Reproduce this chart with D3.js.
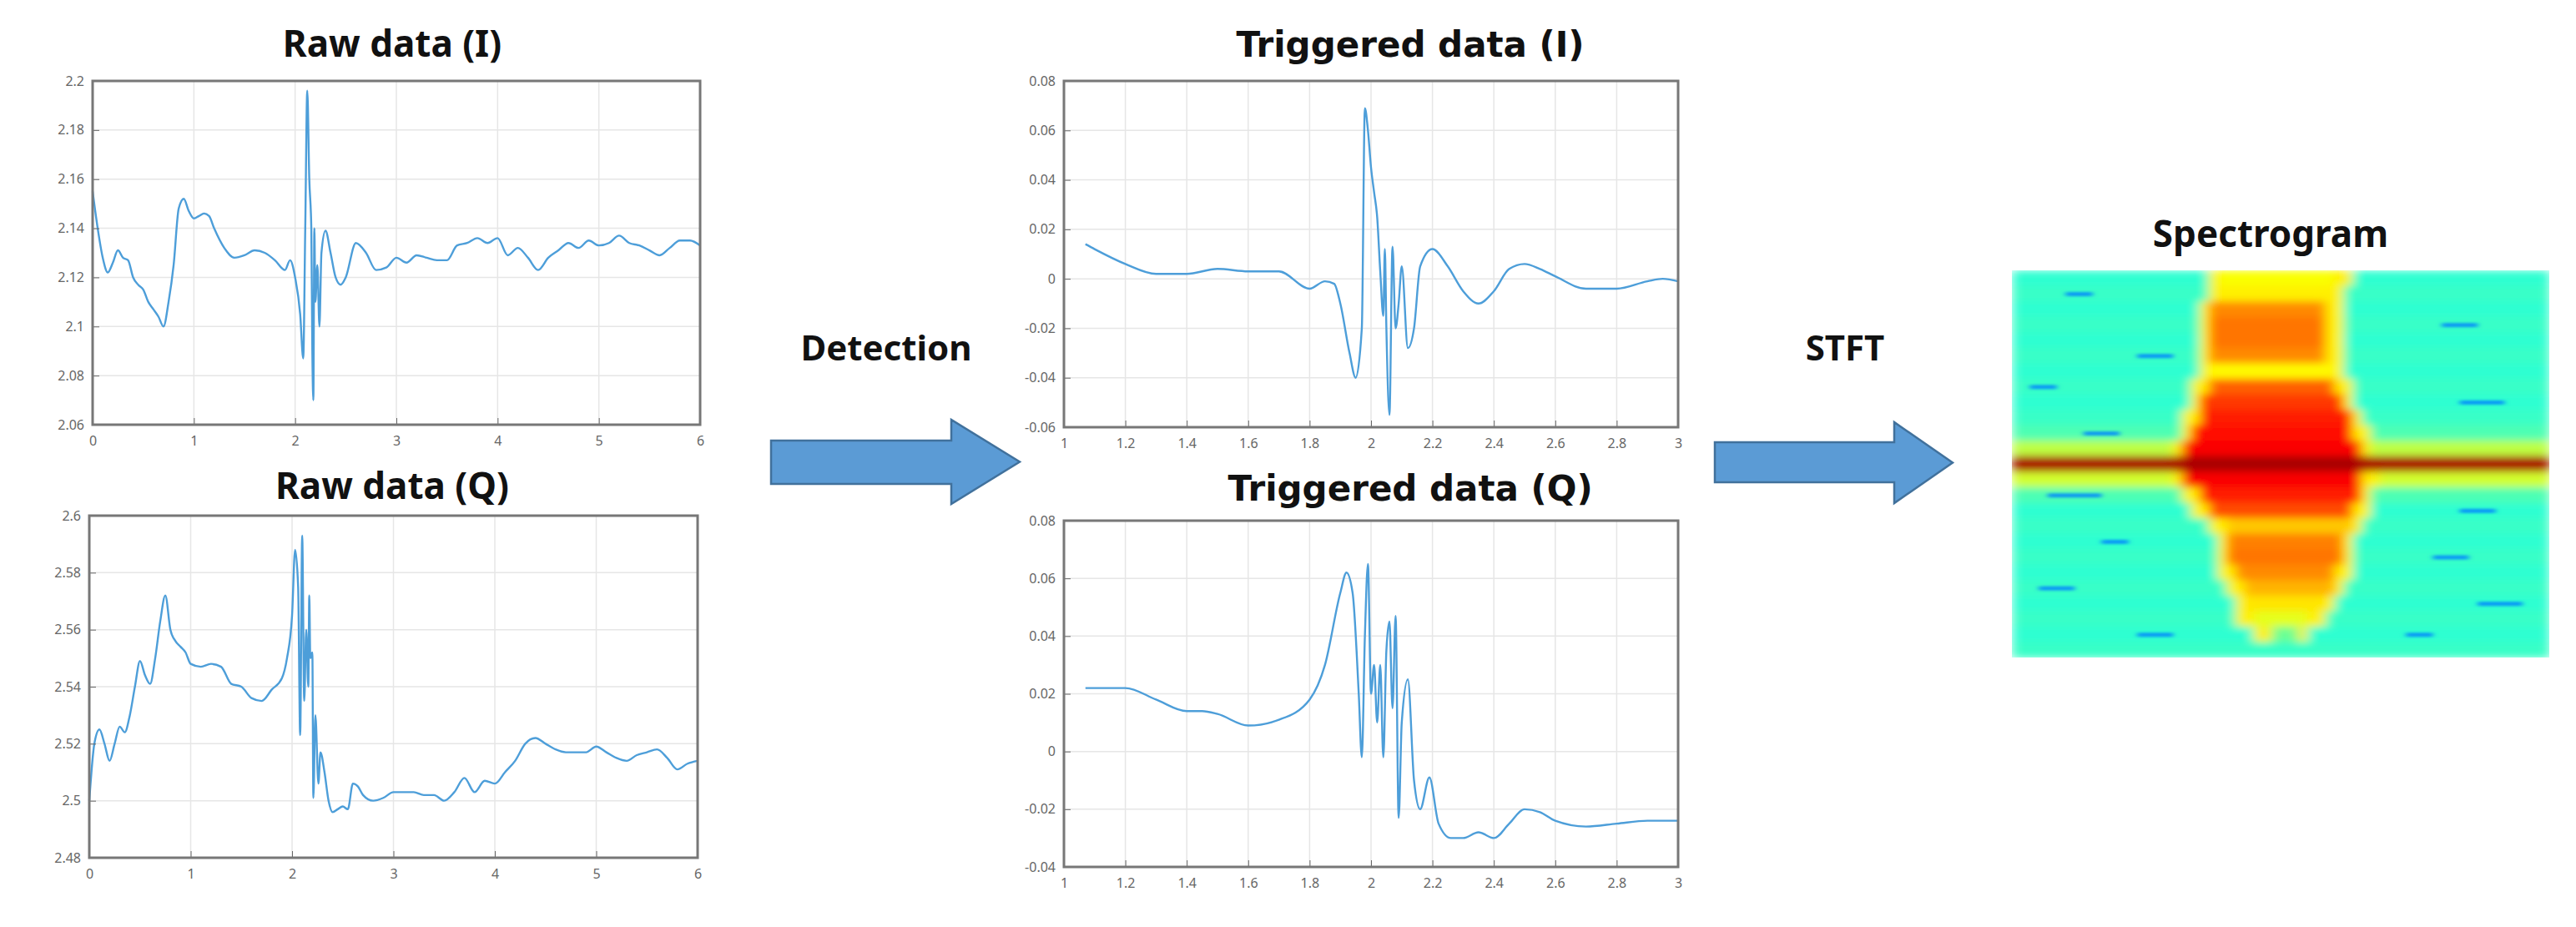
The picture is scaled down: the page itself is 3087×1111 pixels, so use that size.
<!DOCTYPE html>
<html>
<head>
<meta charset="utf-8">
<script src="https://cdn.jsdelivr.net/npm/d3@7"></script>
<style>
  body { margin: 0; background: #fff; }
  text { font-family: "Noto Sans", sans-serif; }
</style>
</head>
<body>
<svg id="chart" width="3087" height="1111"></svg>
<script>
// raw I / Q, x in seconds
var rawI = [[0,2.155],[0.05,2.14],[0.1,2.128],[0.15,2.122],[0.2,2.126],[0.25,2.131],[0.3,2.128],[0.35,2.127],[0.4,2.12],[0.45,2.117],[0.5,2.115],[0.55,2.11],[0.6,2.107],[0.65,2.104],[0.7,2.1],[0.75,2.11],[0.8,2.125],[0.85,2.148],[0.9,2.152],[0.95,2.147],[1.0,2.144],[1.05,2.145],[1.1,2.146],[1.15,2.145],[1.2,2.14],[1.3,2.132],[1.4,2.128],[1.5,2.129],[1.6,2.131],[1.7,2.13],[1.8,2.127],[1.9,2.123],[1.95,2.127],[2.0,2.12],[2.05,2.105],[2.08,2.087],[2.1,2.14],[2.12,2.196],[2.14,2.16],[2.16,2.14],[2.17,2.09],[2.18,2.07],[2.19,2.14],[2.2,2.11],[2.22,2.125],[2.24,2.1],[2.26,2.13],[2.3,2.139],[2.35,2.13],[2.4,2.12],[2.45,2.117],[2.5,2.12],[2.6,2.134],[2.7,2.13],[2.8,2.123],[2.9,2.124],[3.0,2.128],[3.1,2.126],[3.2,2.129],[3.3,2.128],[3.4,2.127],[3.5,2.127],[3.6,2.133],[3.7,2.134],[3.8,2.136],[3.9,2.134],[4.0,2.136],[4.1,2.129],[4.2,2.132],[4.3,2.128],[4.4,2.123],[4.5,2.128],[4.6,2.131],[4.7,2.134],[4.8,2.132],[4.9,2.135],[5.0,2.133],[5.1,2.134],[5.2,2.137],[5.3,2.134],[5.4,2.133],[5.5,2.131],[5.6,2.129],[5.7,2.132],[5.8,2.135],[5.9,2.135],[6.0,2.133]];

var rawQ = [[0,2.5],[0.05,2.52],[0.1,2.525],[0.15,2.52],[0.2,2.514],[0.25,2.52],[0.3,2.526],[0.35,2.524],[0.4,2.53],[0.45,2.54],[0.5,2.549],[0.55,2.544],[0.6,2.541],[0.65,2.55],[0.7,2.563],[0.75,2.572],[0.8,2.56],[0.85,2.556],[0.9,2.554],[0.95,2.552],[1.0,2.548],[1.1,2.547],[1.2,2.548],[1.3,2.547],[1.4,2.541],[1.5,2.54],[1.6,2.536],[1.7,2.535],[1.8,2.539],[1.9,2.543],[1.95,2.55],[2.0,2.565],[2.03,2.588],[2.06,2.575],[2.08,2.523],[2.1,2.593],[2.12,2.535],[2.14,2.56],[2.16,2.54],[2.17,2.572],[2.18,2.55],[2.2,2.552],[2.21,2.501],[2.23,2.53],[2.26,2.506],[2.28,2.517],[2.32,2.51],[2.36,2.5],[2.4,2.496],[2.45,2.497],[2.5,2.498],[2.55,2.497],[2.6,2.506],[2.65,2.505],[2.7,2.502],[2.8,2.5],[2.9,2.501],[3.0,2.503],[3.1,2.503],[3.2,2.503],[3.3,2.502],[3.4,2.502],[3.5,2.5],[3.6,2.503],[3.7,2.508],[3.8,2.503],[3.9,2.507],[4.0,2.506],[4.1,2.51],[4.2,2.514],[4.3,2.52],[4.4,2.522],[4.5,2.52],[4.6,2.518],[4.7,2.517],[4.8,2.517],[4.9,2.517],[5.0,2.519],[5.1,2.517],[5.2,2.515],[5.3,2.514],[5.4,2.516],[5.5,2.517],[5.6,2.518],[5.7,2.515],[5.8,2.511],[5.9,2.513],[6.0,2.514]];

// triggered I / Q
var trigI = [[1.07,0.014],[1.1,0.012],[1.2,0.006],[1.3,0.002],[1.4,0.002],[1.5,0.004],[1.6,0.003],[1.7,0.003],[1.8,-0.004],[1.85,-0.001],[1.88,-0.002],[1.9,-0.01],[1.93,-0.03],[1.95,-0.04],[1.97,-0.02],[1.98,0.069],[1.99,0.06],[2.0,0.045],[2.01,0.035],[2.02,0.025],[2.03,0.003],[2.04,-0.015],[2.045,0.012],[2.05,-0.02],[2.06,-0.055],[2.07,0.013],[2.08,-0.02],[2.09,-0.01],[2.1,0.005],[2.12,-0.028],[2.14,-0.02],[2.16,0.005],[2.2,0.012],[2.25,0.005],[2.3,-0.005],[2.35,-0.01],[2.4,-0.005],[2.45,0.004],[2.5,0.006],[2.55,0.004],[2.6,0.001],[2.7,-0.004],[2.8,-0.004],[2.9,-0.001],[2.95,0.0],[3.0,-0.001]];

var trigQ = [[1.07,0.022],[1.15,0.022],[1.2,0.022],[1.3,0.018],[1.4,0.014],[1.45,0.014],[1.5,0.013],[1.6,0.009],[1.7,0.011],[1.8,0.018],[1.85,0.03],[1.9,0.055],[1.92,0.062],[1.94,0.055],[1.96,0.02],[1.97,-0.002],[1.98,0.04],[1.99,0.065],[2.0,0.02],[2.01,0.03],[2.02,0.01],[2.03,0.03],[2.04,-0.002],[2.05,0.035],[2.06,0.045],[2.07,0.015],[2.08,0.047],[2.09,-0.023],[2.1,0.01],[2.12,0.025],[2.14,-0.01],[2.16,-0.02],[2.19,-0.009],[2.22,-0.025],[2.26,-0.03],[2.3,-0.03],[2.35,-0.028],[2.4,-0.03],[2.45,-0.025],[2.5,-0.02],[2.55,-0.021],[2.6,-0.024],[2.7,-0.026],[2.8,-0.025],[2.9,-0.024],[3.0,-0.024]];

// tick labels
var rawTicksX = [0,1,2,3,4,5,6];
var rawITicksY = [2.06,2.08,2.1,2.12,2.14,2.16,2.18,2.2];
var rawQTicksY = [2.48,2.5,2.52,2.54,2.56,2.58,2.6];
var trigTicksX = [1,1.2,1.4,1.6,1.8,2,2.2,2.4,2.6,2.8,3];
var trigITicksY = [-0.06,-0.04,-0.02,0,0.02,0.04,0.06,0.08];
var trigQTicksY = [-0.04,-0.02,0,0.02,0.04,0.06,0.08];

// spectrogram rows (top to bottom): band level, band left/right (fraction of width), background level
var specBand  = [.62,.64,.74,.76,.76,.74,.63,.78,.82,.85,.86,.88,.96,.88,.85,.80,.68,.75,.76,.74,.70,.65,.60,.48,.42];
var specLeft  = [.36,.36,.35,.35,.35,.35,.35,.34,.33,.32,.31,.30,0,.30,.32,.34,.37,.38,.38,.39,.40,.41,.42,.45,0];
var specRight = [.63,.62,.61,.61,.61,.61,.62,.63,.64,.65,.66,.67,1,.68,.67,.66,.65,.64,.64,.63,.62,.60,.58,.55,0];
var specBg    = [.42,.43,.42,.43,.42,.43,.42,.43,.42,.43,.45,.56,.96,.58,.45,.42,.43,.42,.43,.42,.43,.42,.43,.42,.43];
var specCols = 60;
// dark blue streaks in the background: [row, first col, last col]
var specStreaks = [[1,6,9],[3,48,52],[5,14,18],[7,2,5],[8,50,55],[10,8,12],[14,4,10],[15,50,54],[17,10,13],[18,47,51],[20,3,7],[21,52,57],[23,14,18],[23,44,47]];

var svg = d3.select("#chart");
var lineColor = "#4d9ed9";
var fmt = function(d) { return String(+d.toFixed(3)); };

function drawPlot(data, box, xdom, ydom, xt, yt) {
  var x = d3.scaleLinear().domain(xdom).range([box.l, box.r]);
  var y = d3.scaleLinear().domain(ydom).range([box.b, box.t]);
  var g = svg.append("g");
  g.selectAll(".gx").data(xt).join("line")
    .attr("x1", d => x(d)).attr("x2", d => x(d)).attr("y1", box.t).attr("y2", box.b)
    .attr("stroke", "#e6e6e6").attr("stroke-width", 1.5);
  g.selectAll(".gy").data(yt).join("line")
    .attr("y1", d => y(d)).attr("y2", d => y(d)).attr("x1", box.l).attr("x2", box.r)
    .attr("stroke", "#e6e6e6").attr("stroke-width", 1.5);
  g.append("path").datum(data)
    .attr("d", d3.line().curve(d3.curveMonotoneX).x(d => x(d[0])).y(d => y(d[1])))
    .attr("fill", "none").attr("stroke", lineColor).attr("stroke-width", 2.4);
  var ax = d3.axisBottom(x).tickValues(xt).tickFormat(fmt).tickSize(-8).tickPadding(14);
  var ay = d3.axisLeft(y).tickValues(yt).tickFormat(fmt).tickSize(-8).tickPadding(10);
  var fx = g.append("g").attr("transform", "translate(0," + box.b + ")").call(ax);
  var fy = g.append("g").attr("transform", "translate(" + box.l + ",0)").call(ay);
  [fx, fy].forEach(function(a) {
    a.select(".domain").remove();
    a.selectAll("line").attr("stroke", "#666");
    a.selectAll("text").attr("fill", "#666").style("font-size", "16px");
  });
  g.append("rect").attr("x", box.l).attr("y", box.t)
    .attr("width", box.r - box.l).attr("height", box.b - box.t)
    .attr("fill", "none").attr("stroke", "#777").attr("stroke-width", 3);
}

function title(txt, cx, cy, fam, size) {
  svg.append("text").attr("x", cx).attr("y", cy).attr("text-anchor", "middle")
    .style("font-family", fam).style("font-weight", "bold").style("font-size", size + "px")
    .attr("fill", "#111").text(txt);
}

var trigFont = "'DejaVu Sans', sans-serif";

drawPlot(rawI, {l:111, r:839, t:97, b:509}, [0,6], [2.06,2.2], rawTicksX, rawITicksY);
drawPlot(rawQ, {l:107, r:836, t:618, b:1028}, [0,6], [2.48,2.6], rawTicksX, rawQTicksY);
drawPlot(trigI, {l:1275, r:2011, t:97, b:512}, [1,3], [-0.06,0.08], trigTicksX, trigITicksY);
drawPlot(trigQ, {l:1275, r:2011, t:624, b:1039}, [1,3], [-0.04,0.08], trigTicksX, trigQTicksY);

title("Raw data (I)", 470, 68, "'Noto Sans', sans-serif", 44);
title("Raw data (Q)", 470, 598, "'Noto Sans', sans-serif", 44);
title("Triggered data (I)", 1690, 68, trigFont, 42);
title("Triggered data (Q)", 1690, 600, trigFont, 42);
title("Detection", 1062, 432, "'Noto Sans', sans-serif", 42);
title("STFT", 2211, 432, "'Noto Sans', sans-serif", 42);
title("Spectrogram", 2721, 296, "'Noto Sans', sans-serif", 44);

// arrows
function arrow(x0, x1, xh, yt, yb, ht, hb) {
  var ym = (ht + hb) / 2;
  svg.append("path")
    .attr("d", "M" + x0 + "," + yt + "H" + xh + "V" + ht + "L" + x1 + "," + ym +
      "L" + xh + "," + hb + "V" + yb + "H" + x0 + "Z")
    .attr("fill", "#5b9bd5").attr("stroke", "#41719c").attr("stroke-width", 2.5);
}
arrow(924, 1222, 1140, 528, 580, 503, 604);
arrow(2055, 2340, 2270, 530, 578, 506, 603);

// spectrogram heatmap
var jet = d3.scaleLinear()
  .domain([0, .125, .375, .625, .875, 1])
  .range(["#00008f", "#0000ff", "#00ffff", "#ffff00", "#ff0000", "#800000"]);
var sx = d3.scaleLinear().domain([0, specCols]).range([2411, 3055]);
var sy = d3.scaleLinear().domain([0, specBand.length]).range([324, 788]);
var cells = [];
specBand.forEach(function(lv, r) {
  for (var c = 0; c < specCols; c++) {
    var f = (c + 0.5) / specCols;
    var v = specBg[r];
    if (f >= specLeft[r] && f <= specRight[r]) {
      var edge = Math.min(f - specLeft[r], specRight[r] - f);
      v = edge < 0.025 && specLeft[r] > 0 ? Math.max(0.64, v) : lv;
    }
    cells.push({r: r, c: c, v: v});
  }
});
var defs = svg.append("defs");
defs.append("clipPath").attr("id", "specClip").append("rect")
  .attr("x", 2411).attr("y", 324).attr("width", 644).attr("height", 464);
defs.append("filter").attr("id", "blur").attr("x", "-5%").attr("y", "-5%")
  .attr("width", "110%").attr("height", "110%")
  .append("feGaussianBlur").attr("stdDeviation", "7 5");
defs.append("filter").attr("id", "blur2")
  .append("feGaussianBlur").attr("stdDeviation", "3 1.5");
var sg = svg.append("g").attr("clip-path", "url(#specClip)");
sg.append("g").attr("filter", "url(#blur)")
  .selectAll("rect").data(cells).join("rect")
  .attr("x", d => sx(d.c)).attr("y", d => sy(d.r))
  .attr("width", sx(1) - sx(0) + 1).attr("height", sy(1) - sy(0) + 1)
  .attr("fill", d => jet(d.v));
sg.append("g").attr("filter", "url(#blur2)")
  .selectAll("rect").data(specStreaks).join("rect")
  .attr("x", d => sx(d[1])).attr("y", d => sy(d[0] + 0.4))
  .attr("width", d => sx(d[2]) - sx(d[1])).attr("height", 5)
  .attr("fill", jet(0.25)).attr("opacity", 0.8);
</script>
</body>
</html>
